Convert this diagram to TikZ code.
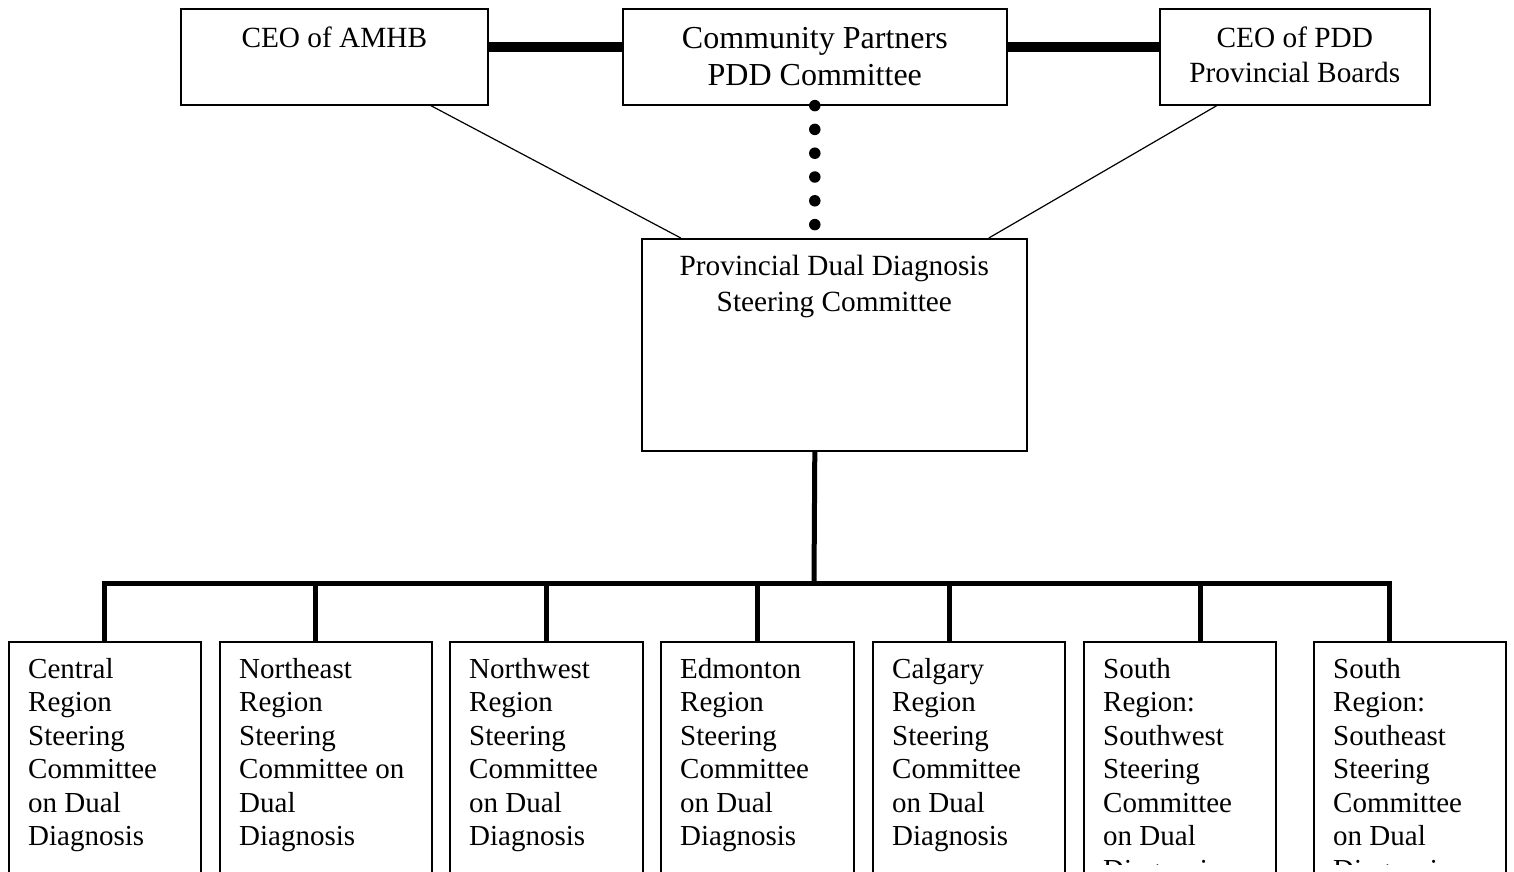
\documentclass[tikz,border=0pt]{standalone}
\usepackage{fontspec}
\setmainfont{Liberation Serif}
\tikzset{
  box/.style={draw, line width=1.6pt, fill=white, inner sep=0pt, anchor=north west},
  toptext/.style={inner sep=0pt, align=center, font=\fontsize{29.3}{35}\selectfont},
  bigtext/.style={inner sep=0pt, align=center, font=\fontsize{32}{37}\selectfont},
  bottext/.style={inner sep=0pt, align=left, font=\fontsize{29}{33.5}\selectfont},
  heavy/.style={line width=10pt},
  thin/.style={line width=1.2pt},
  busline/.style={line width=5pt},
  dotline/.style={line width=11.5pt, line cap=round, dash pattern=on 0pt off 23.8pt}
}
\begin{document}
\begin{tikzpicture}[x=1pt,y=-1pt]
\useasboundingbox (0,0) rectangle (1514,871);
\clip (0,0) rectangle (1514,871);
% top row
\node[box, minimum width=307pt, minimum height=96pt] (amhb) at (180,8) {};
\node[box, minimum width=384pt, minimum height=96pt] (comm) at (622,8) {};
\node[box, minimum width=270pt, minimum height=96pt] (pdd) at (1159,8) {};
\node[box, minimum width=385pt, minimum height=212pt] (prov) at (641,238) {};
% bottom row
\node[box, minimum width=192pt, minimum height=260pt] (b1) at (8,641) {};
\node[box, minimum width=212pt, minimum height=260pt] (b2) at (219,641) {};
\node[box, minimum width=193pt, minimum height=260pt] (b3) at (449,641) {};
\node[box, minimum width=193pt, minimum height=260pt] (b4) at (660,641) {};
\node[box, minimum width=192pt, minimum height=260pt] (b5) at (872,641) {};
\node[box, minimum width=192pt, minimum height=260pt] (b6) at (1083,641) {};
\node[box, minimum width=192pt, minimum height=260pt] (b7) at (1313,641) {};
% texts (anchor base = baseline of the last line)
\node[toptext, anchor=base] (amhbt) at ([yshift=-39pt]amhb.north) {CEO of AMHB};
\node[bigtext, anchor=base] (commt) at ([yshift=-77pt]comm.north) {Community Partners\\PDD Committee};
\node[toptext, anchor=base] (pddt) at ([yshift=-74pt]pdd.north) {CEO of PDD\\Provincial Boards};
\node[toptext, font=\fontsize{29.3}{36}\selectfont, anchor=base] (provt) at ([yshift=-73pt]prov.north) {Provincial Dual Diagnosis\\Steering Committee};
\node[bottext, anchor=base west] (t1) at ([xshift=20pt,yshift=-204.5pt]b1.north west) {Central\\Region\\Steering\\Committee\\on Dual\\Diagnosis};
\node[bottext, anchor=base west] (t2) at ([xshift=20pt,yshift=-204.5pt]b2.north west) {Northeast\\Region\\Steering\\Committee on\\Dual\\Diagnosis};
\node[bottext, anchor=base west] (t3) at ([xshift=20pt,yshift=-204.5pt]b3.north west) {Northwest\\Region\\Steering\\Committee\\on Dual\\Diagnosis};
\node[bottext, anchor=base west] (t4) at ([xshift=20pt,yshift=-204.5pt]b4.north west) {Edmonton\\Region\\Steering\\Committee\\on Dual\\Diagnosis};
\node[bottext, anchor=base west] (t5) at ([xshift=20pt,yshift=-204.5pt]b5.north west) {Calgary\\Region\\Steering\\Committee\\on Dual\\Diagnosis};
\begin{scope}
\clip (0,0) rectangle (1514,864);
\node[bottext, anchor=base west] (t6) at ([xshift=20pt,yshift=-238pt]b6.north west) {South\\Region:\\Southwest\\Steering\\Committee\\on Dual\\Diagnosis};
\node[bottext, anchor=base west] (t7) at ([xshift=20pt,yshift=-238pt]b7.north west) {South\\Region:\\Southeast\\Steering\\Committee\\on Dual\\Diagnosis};
\end{scope}
% top connectors
\draw[heavy] ([yshift=10pt]amhb.east) -- ([yshift=10pt]comm.west);
\draw[heavy] ([yshift=10pt]comm.east) -- ([yshift=10pt]pdd.west);
\draw[thin] ([xshift=96.5pt]amhb.south) -- ([xshift=-153.5pt]prov.north);
\draw[thin] ([xshift=-78pt]pdd.south) -- ([xshift=154.5pt]prov.north);
\draw[dotline] (comm.south) -- ([xshift=-19.5pt]prov.north);
% tree
\coordinate (bus) at (814,583);
\coordinate (d1) at (b1.north);
\coordinate (d2) at ([xshift=-10pt]b2.north);
\coordinate (d3) at (b3.north);
\coordinate (d4) at (b4.north);
\coordinate (d5) at ([xshift=-19pt]b5.north);
\coordinate (d6) at ([xshift=21pt]b6.north);
\coordinate (d7) at ([xshift=-20pt]b7.north);
\draw[busline] ([xshift=-19.5pt]prov.south) -- (bus);
\draw[busline] (d1) -- (d1 |- bus) -- (d7 |- bus) -- (d7);
\foreach \d in {d2,d3,d4,d5,d6} \draw[busline] (\d) -- (\d |- bus);
\end{tikzpicture}
\end{document}
